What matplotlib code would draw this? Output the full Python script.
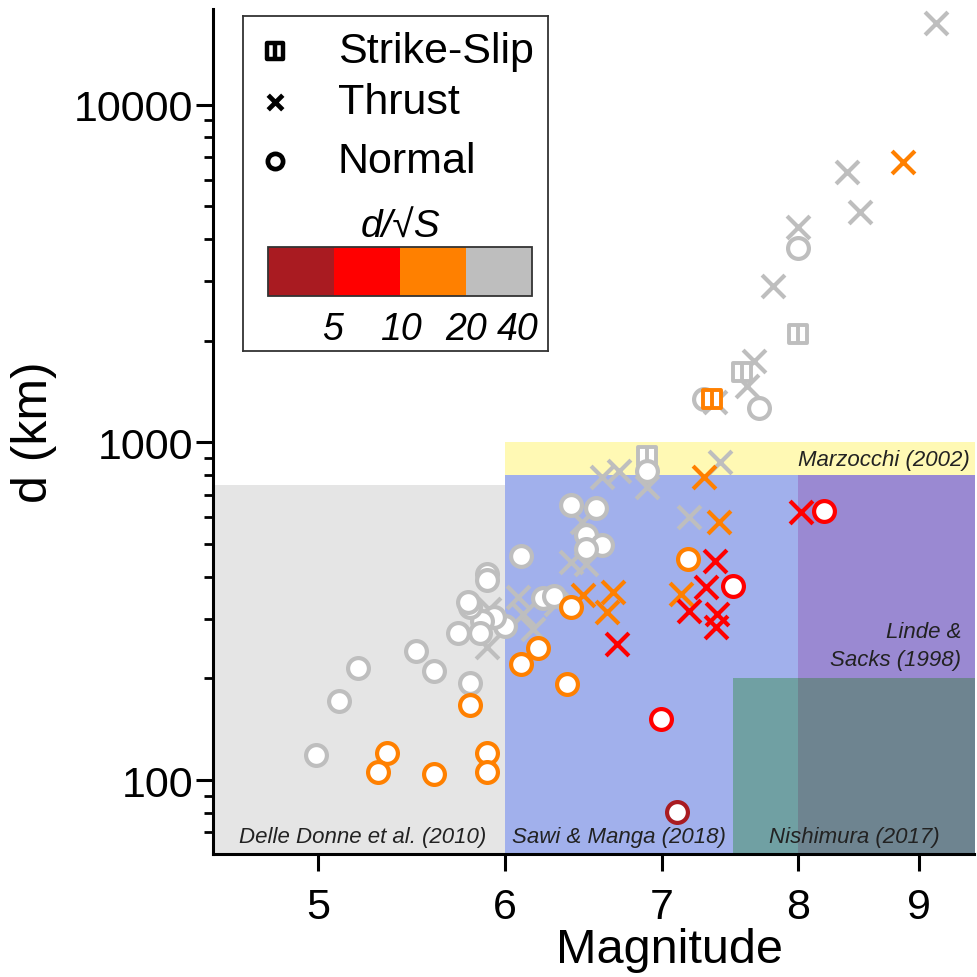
import numpy as np
import matplotlib
matplotlib.use('Agg')
import matplotlib.pyplot as plt
from matplotlib.path import Path
from matplotlib.markers import MarkerStyle
from matplotlib.colors import ListedColormap, BoundaryNorm
from matplotlib.cm import ScalarMappable
from matplotlib.ticker import LogLocator, NullLocator, NullFormatter

plt.rcParams['font.family'] = ['Liberation Sans', 'DejaVu Sans']

# d/sqrt(S) classes: 0 (<5) dark red, 1 (5-10) red, 2 (10-20) orange, 3 (>20) grey
class_colors = ['#A91B21', '#FF0000', '#FF8000', '#BEBEBE']
cbar_bounds = [2.5, 5, 10, 20, 40]
cbar_labels = ['5', '10', '20', '40']

# Thrust events
thrust_mag = [9.15, 8.39, 8.50, 8.00, 7.80, 7.66, 7.61, 7.37, 7.41, 6.60, 6.71, 6.90,
              7.19, 6.40, 6.50, 6.47, 5.90, 5.91, 6.08, 6.11, 6.17, 6.31,
              8.86, 7.29, 7.40, 7.13, 6.48, 6.67, 6.63,
              7.37, 7.31, 7.19, 7.39, 7.38, 6.70, 8.02]
thrust_d = [17400, 6330, 4820, 4350, 2910, 1744, 1470, 1318, 875, 790, 823, 738,
            601, 442, 437, 580, 248, 321, 349, 310, 280, 332,
            6780, 790, 581, 356, 353, 361, 315,
            446, 373, 317, 310, 284, 253, 622]
thrust_cls = [3] * 22 + [2] * 7 + [1] * 7

# Strike-slip events
strike_mag = [8.00, 7.57, 6.90, 7.35]
strike_d = [2096, 1618, 912, 1345]
strike_cls = [3, 3, 3, 2]

# Normal events
normal_mag = [8.00, 7.70, 7.29, 6.90, 6.40, 6.56, 6.50, 6.60, 6.50, 6.10, 6.23, 6.30,
              6.00, 5.94, 5.87, 5.86, 5.73, 5.80, 5.79, 5.90, 5.90, 5.50, 5.60, 5.80,
              5.20, 5.10, 4.99,
              7.18, 6.40, 6.20, 6.10, 6.38, 5.80, 5.35, 5.30, 5.60, 5.90, 5.90,
              7.50, 8.20, 6.99,
              7.10]
normal_d = [3770, 1265, 1345, 823, 653, 640, 532, 497, 484, 461, 346, 351,
            286, 304, 296, 273, 273, 326, 337, 408, 391, 241, 210, 194,
            215, 171, 119,
            452, 326, 246, 221, 192, 167, 120, 106, 104, 120, 106,
            376, 627, 152,
            80.4]
normal_cls = [3] * 27 + [2] * 11 + [1] * 3 + [0]

# study ranges: (label, M min, M max, d min, d max, colour)
region_names = ['Delle Donne et al. (2010)', 'Marzocchi (2002)', 'Sawi & Manga (2018)',
                'Linde & Sacks (1998)', 'Nishimura (2017) a', 'Nishimura (2017) b']
region_mmin = [4.4, 6.0, 6.0, 8.0, 7.5, 8.0]
region_mmax = [6.0, 9.7, 8.0, 9.7, 8.0, 9.7]
region_dmin = [50, 50, 50, 200, 50, 50]
region_dmax = [750, 1000, 800, 800, 200, 200]
region_colors = ['#E5E5E5', '#FFF9B4', '#A1B0EC', '#9A89D2', '#70A0A3', '#6E8490']

# strike-slip marker: square split by a vertical bar
ss_path = Path([(-1, -1), (1, -1), (1, 1), (-1, 1), (-1, -1), (0, -1), (0, 1)],
               [Path.MOVETO, Path.LINETO, Path.LINETO, Path.LINETO, Path.CLOSEPOLY,
                Path.MOVETO, Path.LINETO])
x_mark = MarkerStyle('x', capstyle='round')

fig = plt.figure(figsize=(9.77, 9.78), dpi=100)
ax = fig.add_axes([213 / 977, 123 / 978, (974 - 213) / 977, (968 - 123) / 978])
ax.set_xscale('log')
ax.set_yscale('log')

for i in range(len(region_names)):
    ax.fill_between([region_mmin[i], region_mmax[i]], region_dmin[i], region_dmax[i],
                    color=region_colors[i], lw=0, zorder=1)

txt_font = ['Liberation Sans', 'DejaVu Sans']
note = dict(style='italic', fontsize=16, family=txt_font, va='center',
            color='#222222', zorder=2)
ax.text(5.22, 68, 'Delle Donne et al. (2010)', ha='center', **note)
ax.text(6.71, 68, 'Sawi & Manga (2018)', ha='center', **note)
ax.text(8.45, 68, 'Nishimura (2017)', ha='center', **note)
ax.text(9.46, 890, 'Marzocchi (2002)', ha='right', **note)
ax.text(9.38, 250, 'Linde &\nSacks (1998)', ha='right', multialignment='right',
        linespacing=1.45, **note)

thrust_mag, thrust_d, thrust_cls = map(np.array, (thrust_mag, thrust_d, thrust_cls))
strike_mag, strike_d, strike_cls = map(np.array, (strike_mag, strike_d, strike_cls))
normal_mag, normal_d, normal_cls = map(np.array, (normal_mag, normal_d, normal_cls))

z = 3
for c in [3, 2, 1, 0]:
    col = class_colors[c]
    m = thrust_cls == c
    if m.any():
        ax.scatter(thrust_mag[m], thrust_d[m], marker=x_mark, s=270, color=col,
                   linewidths=3.0, zorder=z)
    m = strike_cls == c
    if m.any():
        ax.scatter(strike_mag[m], strike_d[m], marker=ss_path, s=165, facecolor='white',
                   edgecolor=col, linewidths=2.8, zorder=z + 0.1)
    m = normal_cls == c
    if m.any():
        ax.scatter(normal_mag[m], normal_d[m], marker='o', s=225, facecolor='white',
                   edgecolor=col, linewidths=3.0, zorder=z + 0.2)
    z += 1

ax.set_xlim(4.51, 9.5)
ax.set_ylim(60.4, 19200)
ax.set_xticks([5, 6, 7, 8, 9])
ax.set_xticklabels(['5', '6', '7', '8', '9'])
ax.xaxis.set_minor_locator(NullLocator())
ax.set_yticks([100, 1000, 10000])
ax.set_yticklabels(['100', '1000', '10000'])
ax.yaxis.set_minor_locator(LogLocator(base=10, subs=np.arange(2, 10)))
ax.yaxis.set_minor_formatter(NullFormatter())

for s in ['top', 'right']:
    ax.spines[s].set_visible(False)
for s in ['left', 'bottom']:
    ax.spines[s].set_linewidth(2.2)
ax.tick_params(which='major', length=12, width=2.2, labelsize=31)
ax.tick_params(axis='x', pad=12)
ax.tick_params(axis='y', pad=2)
ax.tick_params(axis='y', which='minor', length=6.5, width=2)

ax.set_xlabel('Magnitude', fontsize=35)
ax.xaxis.set_label_coords(0.60, -0.086)
ax.set_ylabel('d (km)', fontsize=36)
ax.yaxis.set_label_coords(-0.205, 0.50)

# legend box
lg = fig.add_axes([243 / 977, (978 - 352) / 978, 305 / 977, 335 / 978])
lg.set_xlim(0, 1)
lg.set_ylim(0, 1)
lg.set_xticks([])
lg.set_yticks([])
for s in lg.spines.values():
    s.set_linewidth(1.3)
    s.set_edgecolor('#333333')
lg.set_zorder(10)
row_y = [0.896, 0.744, 0.567]
lg.scatter([0.105], [row_y[0]], marker=ss_path, s=120, facecolor='white',
           edgecolor='black', linewidths=3.2)
lg.scatter([0.105], [row_y[1]], marker=x_mark, s=110, color='black', linewidths=3.4)
lg.scatter([0.105], [row_y[2]], marker='o', s=120, facecolor='white',
           edgecolor='black', linewidths=3.4)
for yy, lab in zip(row_y, ['Strike-Slip', 'Thrust', 'Normal']):
    lg.text(0.311, yy, lab, fontsize=31, ha='left', va='center')

cax = fig.add_axes([268 / 977, (978 - 297) / 978, 264 / 977, 49 / 978])
cax.set_zorder(11)
sm = ScalarMappable(norm=BoundaryNorm(cbar_bounds, 4), cmap=ListedColormap(class_colors))
cb = fig.colorbar(sm, cax=cax, orientation='horizontal')
cb.outline.set_linewidth(1.3)
cb.outline.set_edgecolor('#333333')
cax.tick_params(length=0, labelbottom=False)
for xx, lab in zip([0.245, 0.505, 0.75, 0.945], cbar_labels):
    cax.text(xx, -0.67, lab, transform=cax.transAxes, fontsize=27, style='italic',
             ha='center', va='center')
cax.text(0.5, 1.41, 'd/\u221aS', transform=cax.transAxes, fontsize=28, style='italic',
         ha='center', va='center')

fig.savefig('out.png', dpi=100)
